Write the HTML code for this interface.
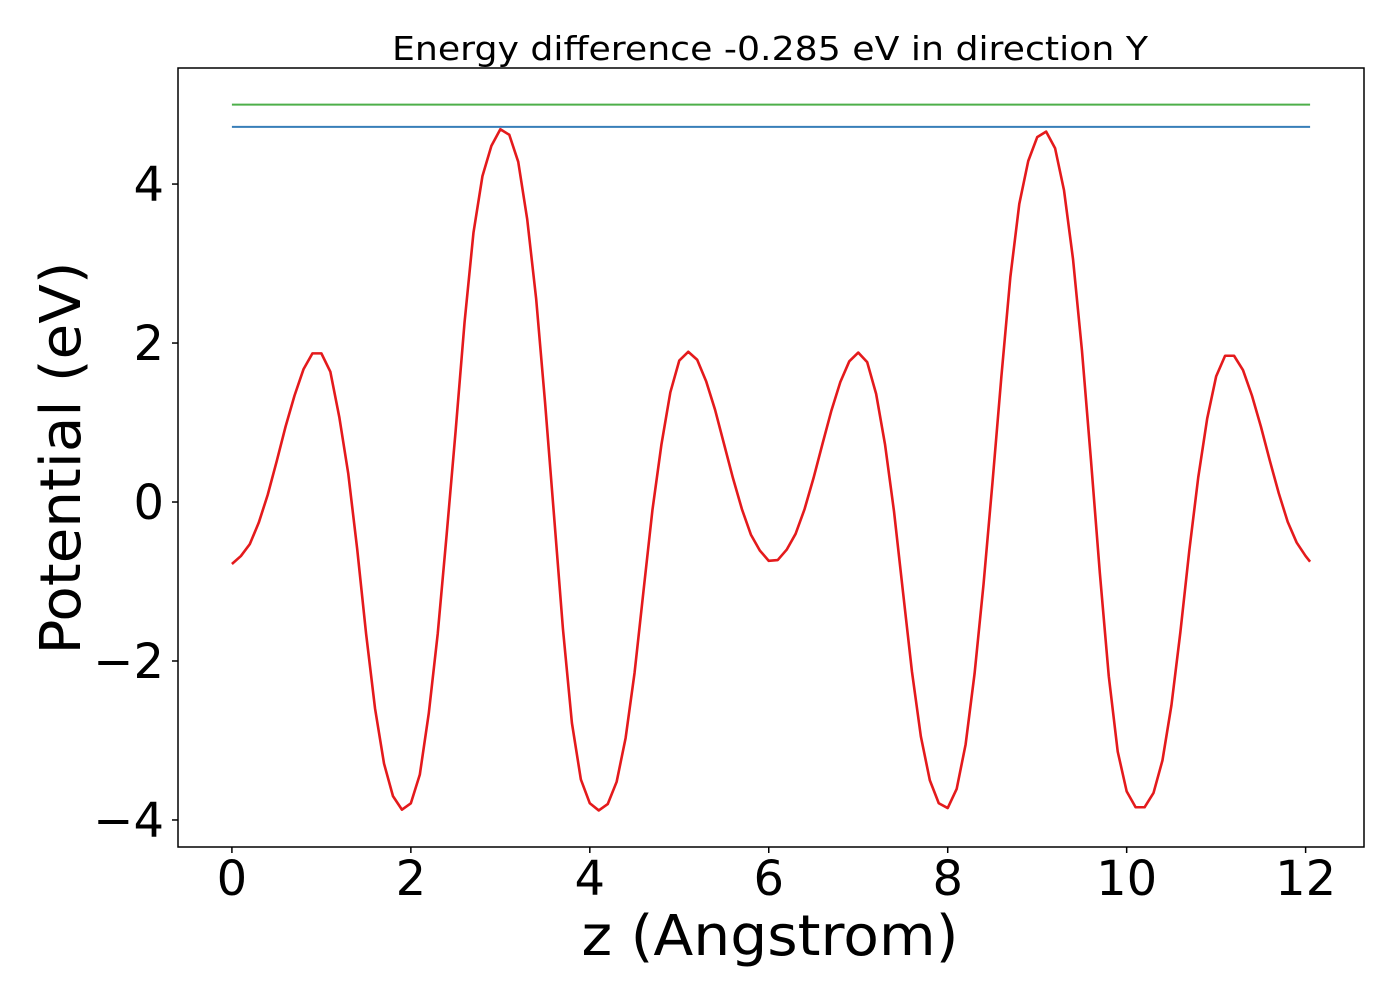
<!DOCTYPE html>
<html><head><meta charset="utf-8"><style>
html,body{margin:0;padding:0;background:#fff;}
svg text{font-family:"DejaVu Sans","Liberation Sans",sans-serif;fill:#000;}
</style></head><body>
<svg id="chart" width="1400" height="1000" viewBox="0 0 1400 1000" xmlns="http://www.w3.org/2000/svg">
<rect width="1400" height="1000" fill="#fff"/>
<text x="770" y="60" font-size="33" text-anchor="middle" textLength="756" lengthAdjust="spacingAndGlyphs">Energy difference -0.285 eV in direction Y</text>
<g id="plot"></g>
<rect x="178" y="68" width="1186" height="779" fill="none" stroke="#000" stroke-width="1.5"/>
<g id="xticks"></g>
<g id="yticks"></g>
<text x="770" y="955" font-size="56" text-anchor="middle" textLength="377" lengthAdjust="spacingAndGlyphs">z (Angstrom)</text>
<text transform="translate(80,458) rotate(-90)" font-size="56" text-anchor="middle" textLength="393" lengthAdjust="spacingAndGlyphs">Potential (eV)</text>
</svg>
<script>
const potential = [-0.78,-0.68,-0.53,-0.26,0.09,0.51,0.95,1.34,1.67,1.87,1.87,1.64,1.07,0.36,-0.59,-1.66,-2.60,-3.29,-3.70,-3.87,-3.79,-3.43,-2.66,-1.66,-0.41,0.89,2.26,3.39,4.10,4.48,4.69,4.62,4.28,3.56,2.56,1.25,-0.17,-1.60,-2.78,-3.49,-3.79,-3.88,-3.80,-3.52,-2.97,-2.15,-1.12,-0.10,0.72,1.38,1.78,1.89,1.79,1.52,1.16,0.73,0.30,-0.09,-0.41,-0.61,-0.74,
-0.73,-0.60,-0.40,-0.09,0.30,0.73,1.15,1.51,1.77,1.88,1.76,1.36,0.72,-0.12,-1.13,-2.13,-2.95,-3.50,-3.79,-3.85,-3.61,-3.05,-2.16,-1.04,0.24,1.58,2.83,3.75,4.29,4.59,4.66,4.45,3.92,3.06,1.91,0.54,-0.89,-2.19,-3.14,-3.64,-3.84,-3.84,-3.66,-3.25,-2.56,-1.64,-0.61,0.31,1.05,1.58,1.84,1.84,1.66,1.34,0.95,0.52,0.11,-0.25,-0.51,-0.68,-0.75];
const zStep = 0.1;
const zEnd = 12.05;
const greenLevel = 5.0;
const blueLevel = 4.72;
const xTicks = [0,2,4,6,8,10,12];
const yTicks = [-4,-2,0,2,4];
const xTickLabels = ["0","2","4","6","8","10","12"];
const yTickLabels = ["\u22124","\u22122","0","2","4"];

const NS = "http://www.w3.org/2000/svg";
const X0 = 178, X1 = 1364, Y0 = 68, Y1 = 847;
const xMin = -0.6025, xMax = 12.6525, yMin = -4.34, yMax = 5.46;
function sx(v){ return X0 + (v - xMin) / (xMax - xMin) * (X1 - X0); }
function sy(v){ return Y1 - (v - yMin) / (yMax - yMin) * (Y1 - Y0); }
function mk(tag, attrs){ const e = document.createElementNS(NS, tag); for (const k in attrs) e.setAttribute(k, attrs[k]); return e; }

const plot = document.getElementById('plot');
const zs = potential.map((_, i) => i === potential.length - 1 ? zEnd : i * zStep);
const zMaxData = zs[zs.length - 1];

const g = mk('line', {x1: sx(0), x2: sx(zMaxData), y1: sy(greenLevel), y2: sy(greenLevel), stroke: '#4daf4a', 'stroke-width': 2});


plot.appendChild(g);

const b = mk('line', {x1: sx(0), x2: sx(zMaxData), y1: sy(blueLevel), y2: sy(blueLevel), stroke: '#377eb8', 'stroke-width': 2});


plot.appendChild(b);

const pts = potential.map((v, i) => sx(zs[i]).toFixed(2) + ',' + sy(v).toFixed(2)).join(' ');
const curve = mk('polyline', {points: pts, fill: 'none', stroke: '#e41a1c', 'stroke-width': 2.6, 'stroke-linejoin': 'round'});


plot.appendChild(curve);

const xg = document.getElementById('xticks');
xTicks.forEach((t, i) => {
  const l = mk('line', {x1: sx(t), x2: sx(t), y1: Y1, y2: Y1 + 6, stroke: '#000', 'stroke-width': 1.5});
  
  
  xg.appendChild(l);
  const tx = mk('text', {x: sx(t), y: 895, 'font-size': 48, 'text-anchor': 'middle'});
  
  
  tx.textContent = xTickLabels[i];
  xg.appendChild(tx);
});
const yg = document.getElementById('yticks');
yTicks.forEach((t, i) => {
  const l = mk('line', {x1: X0 - 6, x2: X0, y1: sy(t), y2: sy(t), stroke: '#000', 'stroke-width': 1.5});
  
  
  yg.appendChild(l);
  const tx = mk('text', {x: 164, y: sy(t) + 17, 'font-size': 48, 'text-anchor': 'end'});
  
  
  tx.textContent = yTickLabels[i];
  yg.appendChild(tx);
});
</script>
</body></html>
